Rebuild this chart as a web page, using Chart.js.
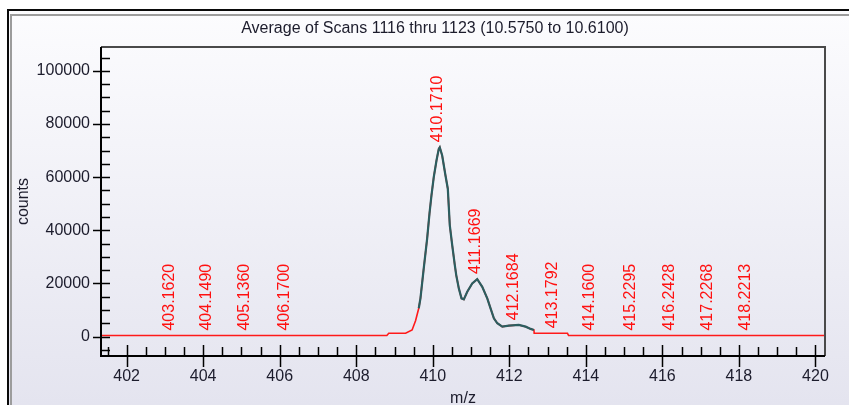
<!DOCTYPE html>
<html>
<head>
<meta charset="utf-8">
<script src="https://cdn.jsdelivr.net/npm/chart.js@4/dist/chart.umd.min.js"></script>
<style>
html,body{margin:0;padding:0;background:#fff;}
#wrap{width:849px;height:405px;}
</style>
</head>
<body>
<div id="wrap"><canvas id="c" width="849" height="405"></canvas></div>
<script>
// ---- data ----
const chartTitle = 'Average of Scans 1116 thru 1123 (10.5750 to 10.6100)';
const xAxisTitle = 'm/z';
const yAxisTitle = 'counts';
const mzValues = [401.33, 408.80, 408.85, 409.29, 409.46, 409.55, 409.634, 409.678, 409.764, 409.853,
  409.914, 409.966, 410.026, 410.097, 410.157, 410.183, 410.246, 410.332, 410.393, 410.445,
  410.508, 410.576, 410.613, 410.681, 410.751, 410.812, 410.901, 411.031, 411.162, 411.293,
  411.424, 411.51, 411.597, 411.686, 411.817, 411.99, 412.25, 412.427, 412.558, 412.644,
  412.65, 413.52, 413.55, 420.30];
const countValues = [400, 400, 1250, 1250, 2500, 6000, 10650, 14400, 25650, 36900,
  46275, 53140, 60000, 66260, 70650, 71250, 68140, 60640, 55650, 41890,
  34390, 26890, 23140, 18150, 14400, 14025, 16875, 20025, 21640, 18750,
  14400, 10650, 6900, 5025, 3750, 4125, 4390, 3750, 2890, 2510,
  1250, 1250, 400, 400];
const overlayRange = [409.63, 412.645];
const peakMz = [403.1620, 404.1490, 405.1360, 406.1700, 410.1710, 411.1669, 412.1684,
  413.1792, 414.1600, 415.2295, 416.2428, 417.2268, 418.2213];
const peakLabels = ['403.1620', '404.1490', '405.1360', '406.1700', '410.1710', '411.1669', '412.1684',
  '413.1792', '414.1600', '415.2295', '416.2428', '417.2268', '418.2213'];
const peakCounts = [400, 400, 400, 400, 71250, 21640, 4300, 1250, 400, 400, 400, 400, 400];
const xTickValues = [402, 404, 406, 408, 410, 412, 414, 416, 418, 420];
const yTickValues = [0, 20000, 40000, 60000, 80000, 100000];

// ---- build ----
const fullProfile = mzValues.map((x, i) => ({x, y: countValues[i]}));
const overlayProfile = fullProfile.filter(p => p.x >= overlayRange[0] && p.x <= overlayRange[1]);

const FONT = '"Liberation Sans", Arial, sans-serif';
const TXT = '#1c1c2c';

const framePlugin = {
  id: 'frame',
  beforeDraw(chart) {
    const ctx = chart.ctx;
    const W = chart.width, H = chart.height;
    ctx.save();
    ctx.fillStyle = '#ffffff';
    ctx.fillRect(0, 0, W, H);
    const g = ctx.createLinearGradient(0, 11, 0, H);
    g.addColorStop(0, '#fcfcfe');
    g.addColorStop(1, '#e4e4ef');
    ctx.fillStyle = g;
    ctx.fillRect(9, 10, W - 9, H - 10);
    ctx.fillStyle = '#0a0a0a';
    ctx.fillRect(7, 9, W - 7, 2);
    ctx.fillRect(7, 9, 2, H - 9);
    ctx.fillStyle = '#9c9c9c';
    ctx.fillRect(11, 14, W - 11, 2);
    ctx.fillRect(10, 14, 2, H - 14);
    ctx.restore();
  },
  afterDatasetsDraw(chart) {
    const ctx = chart.ctx;
    const a = chart.chartArea;
    const xs = chart.scales.x, ys = chart.scales.y;
    ctx.save();
    ctx.strokeStyle = '#4a4a4a';
    ctx.lineWidth = 2;
    ctx.beginPath();
    ctx.moveTo(a.left, a.top);
    ctx.lineTo(a.right, a.top);
    ctx.lineTo(a.right, a.bottom);
    ctx.stroke();
    ctx.strokeStyle = '#000';
    ctx.beginPath();
    ctx.moveTo(a.left, a.top);
    ctx.lineTo(a.left, a.bottom);
    ctx.lineTo(a.right, a.bottom);
    ctx.stroke();
    ctx.lineWidth = 1.5;
    ctx.beginPath();
    for (let v = Math.ceil(xs.min * 2) / 2; v <= xs.max + 1e-9; v += 0.5) {
      const px = Math.round(xs.getPixelForValue(v)) + 0.5;
      if (xTickValues.includes(v)) {
        ctx.moveTo(px, a.bottom - 11); ctx.lineTo(px, a.bottom + 11);
      } else {
        ctx.moveTo(px, a.bottom - 9); ctx.lineTo(px, a.bottom);
      }
    }
    for (let v = Math.ceil(ys.min / 5000) * 5000; v <= ys.max; v += 5000) {
      const py = Math.round(ys.getPixelForValue(v)) + 0.5;
      if (yTickValues.includes(v)) {
        ctx.moveTo(a.left - 8, py); ctx.lineTo(a.left + 9, py);
      } else {
        ctx.moveTo(a.left, py); ctx.lineTo(a.left + 9, py);
      }
    }
    ctx.stroke();
    ctx.fillStyle = '#ff1010';
    ctx.font = '16px ' + FONT;
    ctx.textAlign = 'left';
    ctx.textBaseline = 'middle';
    peakMz.forEach((m, i) => {
      const px = xs.getPixelForValue(m) - 2;
      const py = ys.getPixelForValue(peakCounts[i]) - 5;
      ctx.save();
      ctx.translate(px, py);
      ctx.rotate(-Math.PI / 2);
      ctx.fillText(peakLabels[i], 0, 0);
      ctx.restore();
    });
    ctx.fillStyle = TXT;
    ctx.textAlign = 'center';
    ctx.fillText(chartTitle, 435, 29);
    ctx.restore();
  }
};

new Chart(document.getElementById('c'), {
  type: 'scatter',
  data: {
    datasets: [
      {data: overlayProfile, showLine: true, borderColor: '#2c5e60', borderWidth: 2.2,
       pointRadius: 0, tension: 0, order: 0},
      {data: fullProfile, showLine: true, borderColor: '#ff1a1a', borderWidth: 1.6,
       pointRadius: 0, tension: 0, order: 1}
    ]
  },
  options: {
    responsive: false,
    devicePixelRatio: 1,
    animation: false,
    layout: {padding: {left: 10, right: 24, top: 47, bottom: 0}},
    plugins: {legend: {display: false}, tooltip: {enabled: false}, title: {display: false}},
    scales: {
      x: {
        type: 'linear', position: 'bottom', min: 401.33, max: 420.25,
        afterBuildTicks: s => { s.ticks = xTickValues.map(v => ({value: v})); },
        afterFit: s => { s.height = 49; },
        grid: {display: false, drawTicks: false},
        border: {display: false},
        ticks: {padding: 11, color: TXT, font: {family: FONT, size: 16}, maxRotation: 0,
                callback: v => String(v)},
        title: {display: true, text: xAxisTitle, color: TXT, font: {family: FONT, size: 16},
                padding: {top: 0, bottom: -3}}
      },
      y: {
        type: 'linear', min: -7300, max: 109000,
        afterBuildTicks: s => { s.ticks = yTickValues.map(v => ({value: v})); },
        afterFit: s => { s.width = 91; },
        grid: {display: false, drawTicks: false},
        border: {display: false},
        ticks: {padding: 11, color: TXT, font: {family: FONT, size: 16},
                callback: v => String(v)},
        title: {display: true, text: yAxisTitle, color: TXT, font: {family: FONT, size: 16},
                padding: {top: 4, bottom: 0}}
      }
    }
  },
  plugins: [framePlugin]
});
</script>
</body>
</html>
